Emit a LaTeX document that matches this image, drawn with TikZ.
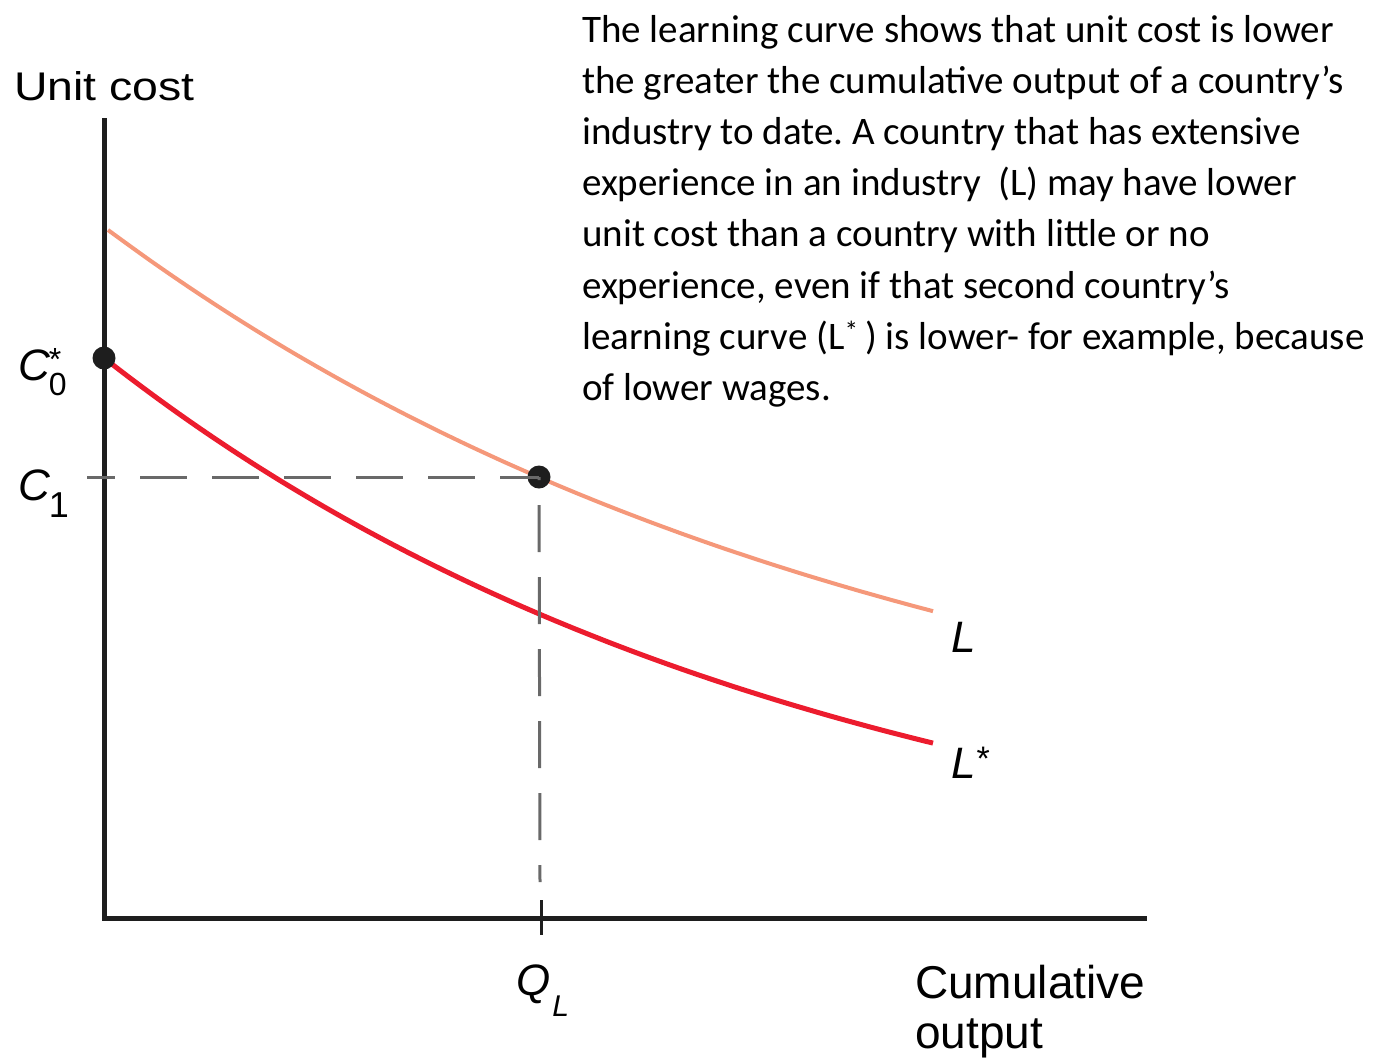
\documentclass[tikz,border=0pt]{standalone}
\usepackage{fontspec}
\setmainfont{Carlito}
\newfontfamily\arial{Liberation Sans}
\definecolor{curveL}{RGB}{245,152,122}
\definecolor{curveLs}{RGB}{236,28,46}
\definecolor{dashgray}{RGB}{105,105,105}
\definecolor{axisblack}{RGB}{30,30,30}
\frenchspacing
\begin{document}
\begin{tikzpicture}[x=1pt,y=-1pt,
  axisline/.style={draw=axisblack, line width=5pt},
  guide/.style={draw=dashgray, line width=3pt, dash pattern=on 47pt off 25pt},
  dotmark/.style={circle, fill=axisblack, inner sep=0pt, minimum size=23pt},
  lab/.style={inner sep=0pt, anchor=base west, font=\arial\fontsize{44}{44}\selectfont},
  bodytext/.style={inner sep=0pt, anchor=base west, font=\fontsize{39}{51.2}\selectfont}]
\useasboundingbox (0,0) rectangle (1376,1061);
% axes
\coordinate (ytop) at (104,118);
\coordinate (O) at (104,918);
\coordinate (xend) at (1147,918);
\draw[axisline] (ytop) -- (O) -- (xend);
% curves
\draw[curveL, line width=4pt] plot[domain=108:933, samples=80] (\x, {918-100-588*exp(-0.001264*(\x-108))});
\draw[curveLs, line width=5pt] plot[domain=104:933, samples=80] (\x, {918-560*exp(-0.0014*(\x-104))});
% points
\node[dotmark] (c0) at (104,358) {};
\node[dotmark] (p1) at (539,477) {};
\coordinate (hstart) at (87,477);
\coordinate (vend) at (540,882);
\coordinate (tickA) at (541,900);
\coordinate (tickB) at (541,935);
\draw[guide, dash phase=19pt] (hstart) -- (p1.center);
\draw[guide, dash phase=44pt] (p1.center) -- (vend);
\draw[axisblack, line width=3pt] (tickA) -- (tickB);
% labels
\node[lab] (ylab) at (14,100) {\fontsize{40}{40}\selectfont\scalebox{1.16}[1]{Unit cost}};
\node[lab] (xlab) at (915,998) {\fontsize{46}{50}\selectfont\parbox[t]{300pt}{Cumulative\\output}};
\node[lab] (c0lab) at (18,380) {\itshape C\kern-1pt\rlap{\raisebox{10pt}{\upshape\fontsize{32}{32}\selectfont *}}\raisebox{-15pt}{\upshape\fontsize{32}{32}\selectfont 0}};
\node[lab] (c1lab) at (18,500) {\itshape C\kern-1pt\raisebox{-17pt}{\upshape\fontsize{36}{36}\selectfont 1}};
\node[lab] (qlab) at (516,995) {\itshape Q\kern2pt\raisebox{-21pt}{\fontsize{30}{30}\selectfont L}};
\node[lab] (llab) at (951,652) {\itshape L};
\node[lab] (lslab) at (951,778) {\itshape L\kern1pt\raisebox{8pt}{\upshape\fontsize{34}{34}\selectfont *}};
% explanatory text
\node[bodytext] (note) at (582,42) {\parbox[t]{790pt}{\raggedright
The learning curve shows that unit cost is lower\\
the greater the cumulative output of a country’s\\
industry to date. A country that has extensive\\
experience in an industry\ \ (L) may have lower\\
unit cost than a country with little or no\\
experience, even if that second country’s\\
learning curve (L\textsuperscript{*}\,) is lower- for example, because\\
of lower wages.}};
\end{tikzpicture}
\end{document}
